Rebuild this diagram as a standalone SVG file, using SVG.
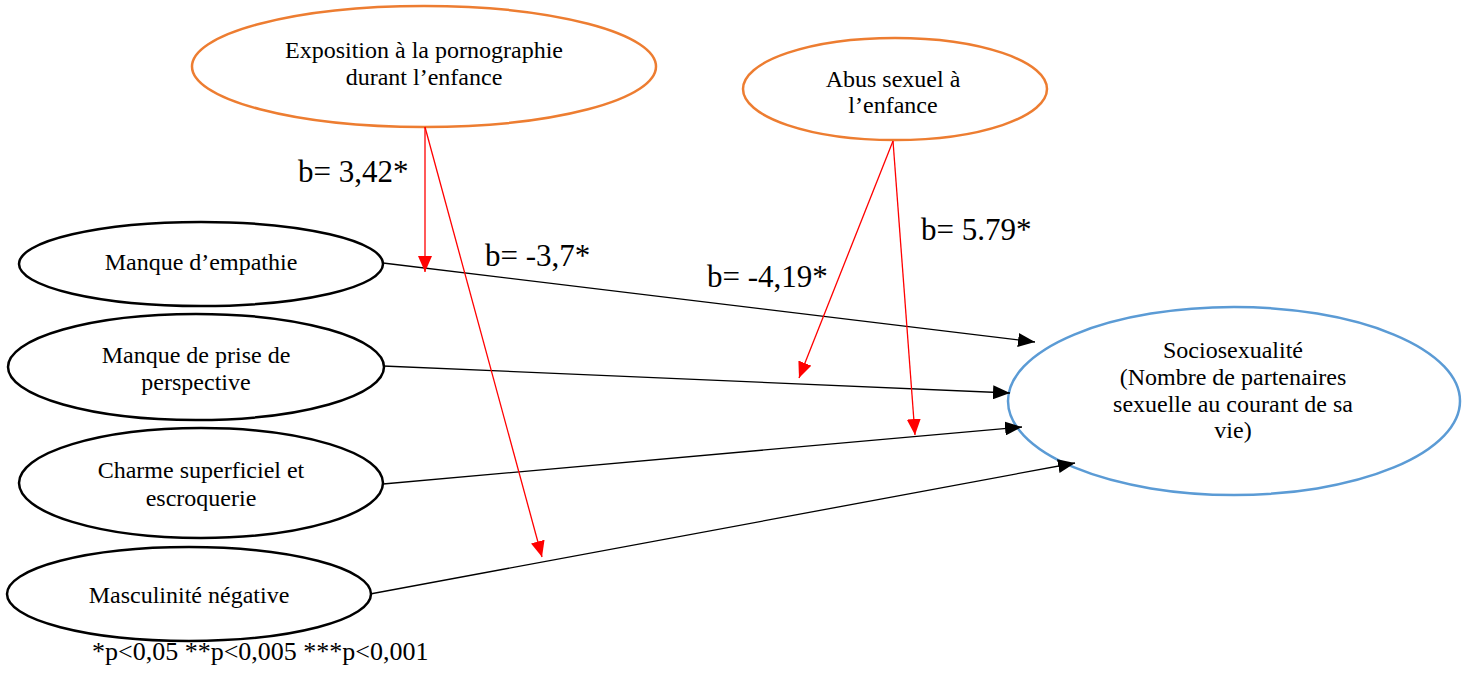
<svg xmlns="http://www.w3.org/2000/svg" width="1468" height="673" viewBox="0 0 1468 673">
<style>
text{font-family:"Liberation Serif","Times New Roman",serif;fill:#000}
.n{font-size:24px;text-anchor:middle}
.b{font-size:31px}
.k{fill:#fff;stroke:#000;stroke-width:2.5}
.o{fill:#fff;stroke:#ED7D31;stroke-width:2.5}
.u{fill:#fff;stroke:#5B9BD5;stroke-width:2.5}
.cb{stroke:#000;stroke-width:1.3;fill:none;marker-end:url(#ab)}
.cr{stroke:#FF0000;stroke-width:1.3;fill:none;marker-end:url(#ar)}
</style>
<defs>
<marker id="ab" markerUnits="userSpaceOnUse" markerWidth="18" markerHeight="14" refX="17" refY="7" orient="auto"><path d="M0,0 L17,7 L0,14 z" fill="#000"/></marker>
<marker id="ar" markerUnits="userSpaceOnUse" markerWidth="16" markerHeight="14" refX="16" refY="7" orient="auto"><path d="M0,0 L16,7 L0,14 z" fill="#FF0000"/></marker>
</defs>
<rect width="1468" height="673" fill="#fff"/>
<g id="exposition"><ellipse class="o" cx="424" cy="66.5" rx="232" ry="60.5"/><text class="n" x="424" y="58">Exposition à la pornographie</text><text class="n" x="424" y="85">durant l’enfance</text></g>
<g id="abus"><ellipse class="o" cx="895" cy="89" rx="152" ry="51"/><text class="n" x="893" y="87">Abus sexuel à</text><text class="n" x="893" y="113">l’enfance</text></g>
<g id="empathie"><ellipse class="k" cx="201" cy="264" rx="182" ry="42"/><text class="n" x="201" y="270">Manque d’empathie</text></g>
<g id="perspective"><ellipse class="k" cx="196" cy="367" rx="188" ry="53"/><text class="n" x="196" y="363">Manque de prise de</text><text class="n" x="196" y="390">perspective</text></g>
<g id="charme"><ellipse class="k" cx="201" cy="483" rx="182" ry="55"/><text class="n" x="201" y="478">Charme superficiel et</text><text class="n" x="201" y="506">escroquerie</text></g>
<g id="masculinite"><ellipse class="k" cx="189" cy="594" rx="182" ry="47"/><text class="n" x="189" y="603">Masculinité négative</text></g>
<g id="sociosexualite"><ellipse class="u" cx="1234" cy="401" rx="226" ry="94"/><text class="n" x="1233" y="358">Sociosexualité</text><text class="n" x="1233" y="385">(Nombre de partenaires</text><text class="n" x="1233" y="412">sexuelle au courant de sa</text><text class="n" x="1233" y="438">vie)</text></g>
<g id="connectors">
<line class="cb" x1="383" y1="263" x2="1035" y2="342"/>
<line class="cb" x1="383" y1="366" x2="1010" y2="393"/>
<line class="cb" x1="383" y1="484" x2="1022" y2="427"/>
<line class="cb" x1="370" y1="594" x2="1075" y2="463"/>
<line class="cr" x1="425" y1="127" x2="425" y2="272"/>
<line class="cr" x1="425" y1="127" x2="542" y2="557"/>
<line class="cr" x1="893" y1="141" x2="799" y2="378"/>
<line class="cr" x1="893" y1="141" x2="915" y2="435"/>
</g>
<g id="labels">
<text class="b" x="298" y="182">b= 3,42*</text>
<text class="b" x="485" y="266">b= -3,7*</text>
<text class="b" x="707" y="287">b= -4,19*</text>
<text class="b" x="921" y="240">b= 5.79*</text>
<text x="92" y="660" font-size="26">*p&lt;0,05 **p&lt;0,005 ***p&lt;0,001</text>
</g>
</svg>
